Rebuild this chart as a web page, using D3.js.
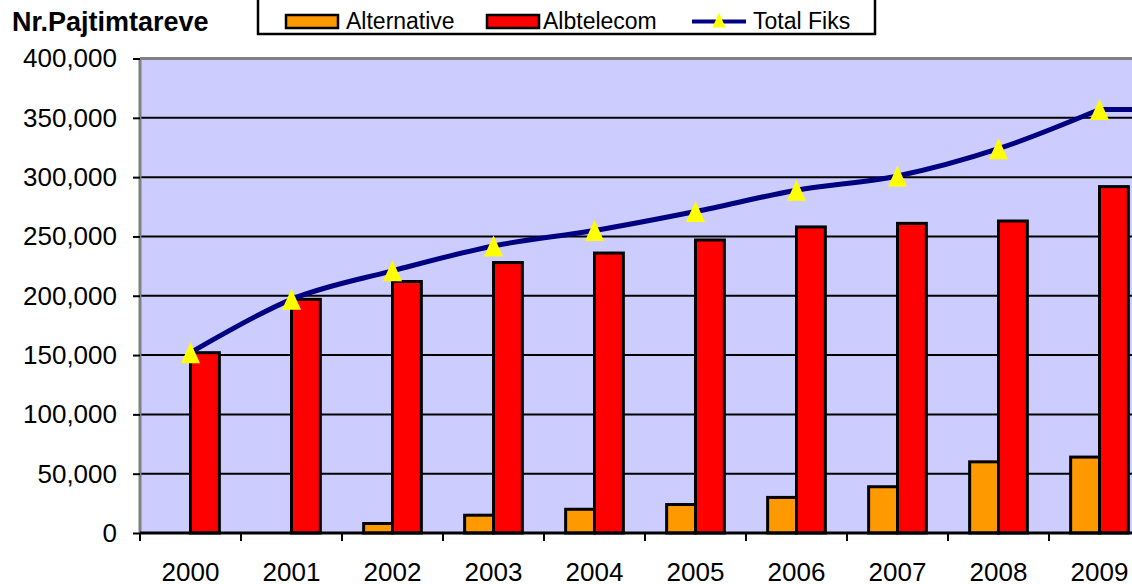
<!DOCTYPE html>
<html>
<head>
<meta charset="utf-8">
<script src="https://cdn.jsdelivr.net/npm/d3@7"></script>
<style>
  body { margin: 0; background: #fff; }
  svg { display: block; font-family: "Liberation Sans", Arial, sans-serif; }
</style>
</head>
<body>
<div id="chart"></div>
<script>
var years = ["2000", "2001", "2002", "2003", "2004", "2005", "2006", "2007", "2008", "2009"];
var alternative = [0, 0, 8000, 15000, 20000, 24000, 30000, 39000, 60000, 64000];
var albtelecom = [152000, 197000, 212000, 228000, 236000, 247000, 258000, 261000, 263000, 292000];
var totalFiks = [152000, 197000, 221000, 242000, 255000, 271000, 289000, 301000, 324000, 357000];
var yTicks = [0, 50000, 100000, 150000, 200000, 250000, 300000, 350000, 400000];
var seriesNames = ["Alternative", "Albtelecom", "Total Fiks"];
var colors = { Alternative: "#ff9900", Albtelecom: "#ff0000", line: "#000080", marker: "#ffff00" };

var width = 1132, height = 584;
var plotL = 140, plotR = 1150, plotT = 58.5, plotB = 533;

var svg = d3.select("#chart").append("svg")
    .attr("width", width)
    .attr("height", height);

var x = d3.scaleBand().domain(years).range([plotL, plotR]).padding(0);
var y = d3.scaleLinear().domain([0, 400000]).range([plotB, plotT]);
var barW = x.bandwidth() / 3.5;
var inner = d3.scaleBand().domain(["Alternative", "Albtelecom"])
    .range([x.bandwidth() / 2 - barW, x.bandwidth() / 2 + barW]);

// plot background
svg.append("rect")
    .attr("x", plotL).attr("y", plotT)
    .attr("width", plotR - plotL).attr("height", plotB - plotT)
    .attr("fill", "#ccccff");

// gridlines
svg.append("g").selectAll("line")
    .data(yTicks.filter(function(d) { return d > 0 && d < 400000; }))
    .enter().append("line")
    .attr("x1", plotL).attr("x2", plotR)
    .attr("y1", function(d) { return y(d); })
    .attr("y2", function(d) { return y(d); })
    .attr("stroke", "#000").attr("stroke-width", 2);

// gray border left + top
svg.append("line").attr("x1", plotL).attr("x2", plotL).attr("y1", plotT).attr("y2", plotB + 1)
    .attr("stroke", "#808080").attr("stroke-width", 3);
svg.append("line").attr("x1", plotL).attr("x2", plotR).attr("y1", plotT).attr("y2", plotT)
    .attr("stroke", "#808080").attr("stroke-width", 3);

// bars
var groups = svg.append("g").selectAll("g")
    .data(years)
    .enter().append("g")
    .attr("transform", function(d) { return "translate(" + x(d) + ",0)"; });

groups.each(function(d, i) {
    var g = d3.select(this);
    var vals = [["Alternative", alternative[i]], ["Albtelecom", albtelecom[i]]];
    vals.forEach(function(v) {
        if (v[1] <= 0) return;
        g.append("rect")
            .attr("x", inner(v[0]))
            .attr("y", y(v[1]))
            .attr("width", barW)
            .attr("height", plotB - y(v[1]))
            .attr("fill", colors[v[0]])
            .attr("stroke", "#000")
            .attr("stroke-width", 3);
    });
});

// x axis line
svg.append("line").attr("x1", plotL).attr("x2", plotR).attr("y1", plotB).attr("y2", plotB)
    .attr("stroke", "#000").attr("stroke-width", 3);

// line series, smoothed through the points, then flat to the plot edge
var pts = years.map(function(d, i) { return [x(d) + x.bandwidth() / 2, y(totalFiks[i])]; });
var last = pts[pts.length - 1];

var line = d3.line().curve(d3.curveCardinal.tension(0));
svg.append("path")
    .attr("d", line(pts) + "L" + plotR + "," + last[1])
    .attr("fill", "none")
    .attr("stroke", colors.line)
    .attr("stroke-width", 5);

var tri = "M0,-10.5L9.5,10.5L-9.5,10.5Z";
svg.append("g").selectAll("path")
    .data(years)
    .enter().append("path")
    .attr("d", tri)
    .attr("transform", function(d, i) {
        return "translate(" + (x(d) + x.bandwidth() / 2) + "," + y(totalFiks[i]) + ")";
    })
    .attr("fill", colors.marker);

// y axis
var yAxis = svg.append("g")
    .attr("transform", "translate(" + plotL + ",0)")
    .call(d3.axisLeft(y).tickValues(yTicks).tickFormat(d3.format(",")).tickSize(7).tickPadding(16));
yAxis.select(".domain").remove();
yAxis.selectAll(".tick line").attr("stroke", "#000").attr("stroke-width", 2);
yAxis.selectAll("text").attr("font-size", 26).attr("fill", "#000")
    .attr("font-family", "'Liberation Sans', Arial, sans-serif");

// x axis labels
var xAxis = svg.append("g")
    .attr("transform", "translate(0," + plotB + ")")
    .call(d3.axisBottom(x).tickSize(0).tickPadding(30));
xAxis.select(".domain").remove();
xAxis.selectAll("text").attr("font-size", 26).attr("fill", "#000")
    .attr("font-family", "'Liberation Sans', Arial, sans-serif");

// x tick marks at category boundaries
svg.append("g").selectAll("line")
    .data(years)
    .enter().append("line")
    .attr("x1", function(d) { return x(d); })
    .attr("x2", function(d) { return x(d); })
    .attr("y1", plotB).attr("y2", plotB + 8)
    .attr("stroke", "#000").attr("stroke-width", 2);

// title
svg.append("text")
    .attr("x", 12).attr("y", 31)
    .attr("font-size", 27).attr("font-weight", "bold")
    .text("Nr.Pajtimtareve");

// legend
var lg = svg.append("g");
lg.append("path")
    .attr("d", "M258,-2V34H875V-2")
    .attr("fill", "#fff").attr("stroke", "#000").attr("stroke-width", 2.5);

var items = [
    { name: seriesNames[0], sx: 286, tx: 346 },
    { name: seriesNames[1], sx: 487, tx: 543 },
    { name: seriesNames[2], sx: 692, tx: 753 }
];
items.forEach(function(it, i) {
    if (i < 2) {
        lg.append("rect")
            .attr("x", it.sx).attr("y", 15).attr("width", 52).attr("height", 13)
            .attr("fill", colors[it.name]).attr("stroke", "#000").attr("stroke-width", 2.5);
    } else {
        lg.append("line")
            .attr("x1", it.sx).attr("x2", it.sx + 54).attr("y1", 21.5).attr("y2", 21.5)
            .attr("stroke", colors.line).attr("stroke-width", 4);
        lg.append("path")
            .attr("d", "M0,-7.5L6.5,7.5L-6.5,7.5Z")
            .attr("transform", "translate(" + (it.sx + 27) + ",20)")
            .attr("fill", colors.marker);
    }
    lg.append("text")
        .attr("x", it.tx).attr("y", 29)
        .attr("font-size", 23)
        .text(it.name);
});
</script>
</body>
</html>
